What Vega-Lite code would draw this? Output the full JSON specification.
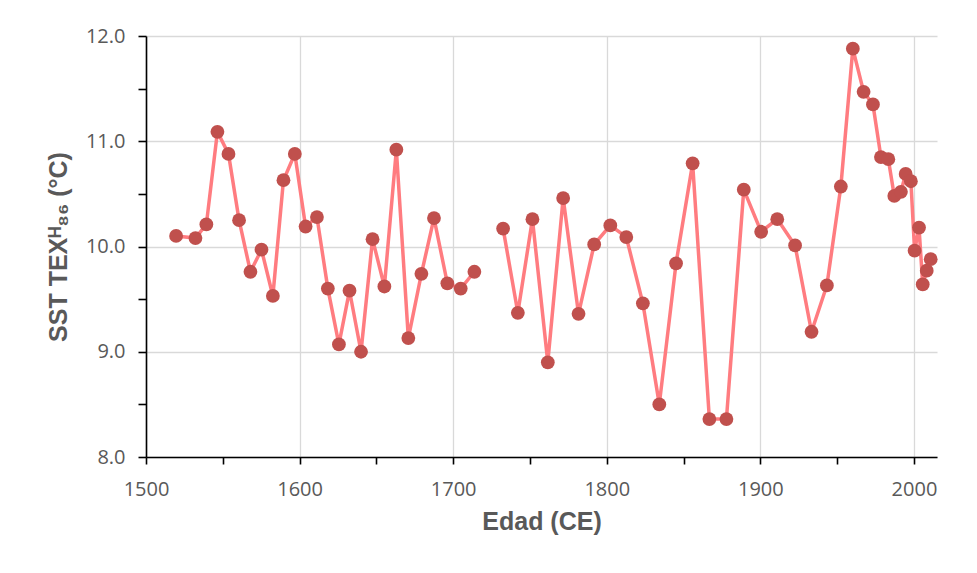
{
  "$schema": "https://vega.github.io/schema/vega-lite/v6.json",
  "autosize": {"type": "none"},
  "width": 791,
  "height": 421,
  "padding": {"left": 146, "top": 36, "right": 40, "bottom": 116},
  "background": "white",
  "config": {"view": {"stroke": null}},
  "data": {"values": [
    {"year": 1519.6, "sst": 10.10, "seg": 1},
    {"year": 1532.2, "sst": 10.08, "seg": 1},
    {"year": 1539.3, "sst": 10.21, "seg": 1},
    {"year": 1546.5, "sst": 11.09, "seg": 1},
    {"year": 1553.7, "sst": 10.88, "seg": 1},
    {"year": 1560.6, "sst": 10.25, "seg": 1},
    {"year": 1568.0, "sst": 9.76, "seg": 1},
    {"year": 1575.2, "sst": 9.97, "seg": 1},
    {"year": 1582.6, "sst": 9.53, "seg": 1},
    {"year": 1589.5, "sst": 10.63, "seg": 1},
    {"year": 1596.9, "sst": 10.88, "seg": 1},
    {"year": 1603.9, "sst": 10.19, "seg": 1},
    {"year": 1611.3, "sst": 10.28, "seg": 1},
    {"year": 1618.4, "sst": 9.60, "seg": 1},
    {"year": 1625.6, "sst": 9.07, "seg": 1},
    {"year": 1632.5, "sst": 9.58, "seg": 1},
    {"year": 1640.0, "sst": 9.00, "seg": 1},
    {"year": 1647.5, "sst": 10.07, "seg": 1},
    {"year": 1655.2, "sst": 9.62, "seg": 1},
    {"year": 1663.0, "sst": 10.92, "seg": 1},
    {"year": 1670.8, "sst": 9.13, "seg": 1},
    {"year": 1679.3, "sst": 9.74, "seg": 1},
    {"year": 1687.5, "sst": 10.27, "seg": 1},
    {"year": 1696.2, "sst": 9.65, "seg": 1},
    {"year": 1704.9, "sst": 9.60, "seg": 1},
    {"year": 1713.8, "sst": 9.76, "seg": 1},
    {"year": 1732.5, "sst": 10.17, "seg": 2},
    {"year": 1742.1, "sst": 9.37, "seg": 2},
    {"year": 1751.6, "sst": 10.26, "seg": 2},
    {"year": 1761.6, "sst": 8.90, "seg": 2},
    {"year": 1771.6, "sst": 10.46, "seg": 2},
    {"year": 1781.6, "sst": 9.36, "seg": 2},
    {"year": 1791.8, "sst": 10.02, "seg": 2},
    {"year": 1802.3, "sst": 10.20, "seg": 2},
    {"year": 1812.7, "sst": 10.09, "seg": 2},
    {"year": 1823.5, "sst": 9.46, "seg": 2},
    {"year": 1834.2, "sst": 8.50, "seg": 2},
    {"year": 1845.1, "sst": 9.84, "seg": 2},
    {"year": 1855.9, "sst": 10.79, "seg": 2},
    {"year": 1866.8, "sst": 8.36, "seg": 2},
    {"year": 1877.9, "sst": 8.36, "seg": 2},
    {"year": 1889.2, "sst": 10.54, "seg": 2},
    {"year": 1900.5, "sst": 10.14, "seg": 2},
    {"year": 1911.0, "sst": 10.26, "seg": 2},
    {"year": 1922.6, "sst": 10.01, "seg": 2},
    {"year": 1933.3, "sst": 9.19, "seg": 2},
    {"year": 1943.3, "sst": 9.63, "seg": 2},
    {"year": 1952.4, "sst": 10.57, "seg": 2},
    {"year": 1960.2, "sst": 11.88, "seg": 2},
    {"year": 1967.2, "sst": 11.47, "seg": 2},
    {"year": 1973.3, "sst": 11.35, "seg": 2},
    {"year": 1978.5, "sst": 10.85, "seg": 2},
    {"year": 1983.3, "sst": 10.83, "seg": 2},
    {"year": 1987.2, "sst": 10.48, "seg": 2},
    {"year": 1991.5, "sst": 10.52, "seg": 2},
    {"year": 1994.6, "sst": 10.69, "seg": 2},
    {"year": 1998.0, "sst": 10.62, "seg": 2},
    {"year": 2000.4, "sst": 9.96, "seg": 2},
    {"year": 2003.3, "sst": 10.18, "seg": 2},
    {"year": 2005.7, "sst": 9.64, "seg": 2},
    {"year": 2008.3, "sst": 9.77, "seg": 2},
    {"year": 2010.9, "sst": 9.88, "seg": 2}
  ]},
  "encoding": {
    "x": {
      "field": "year", "type": "quantitative",
      "scale": {"domain": [1500, 2015], "nice": false, "zero": false},
      "axis": {
        "title": "Edad (CE)",
        "values": [1500, 1550, 1600, 1650, 1700, 1750, 1800, 1850, 1900, 1950, 2000],
        "labelExpr": "datum.value % 100 === 0 ? format(datum.value, 'd') : ''",
        "gridOpacity": {"condition": {"test": "datum.value % 100 === 0", "value": 1}, "value": 0},
        "gridColor": "#D9D9D9", "gridWidth": 1.3,
        "domainColor": "#000000", "domainWidth": 1.6,
        "tickColor": "#000000", "tickWidth": 1.6, "tickSize": 7,
        "labelFont": "Open Sans", "labelFontSize": 20, "labelColor": "#595959", "labelPadding": 15,
        "labelFlush": false, "labelOverlap": false,
        "titleFont": "Liberation Sans", "titleFontSize": 25, "titleFontWeight": "bold", "titleColor": "#595959", "titlePadding": 10
      }
    },
    "y": {
      "field": "sst", "type": "quantitative",
      "scale": {"domain": [8, 12], "nice": false, "zero": false},
      "axis": {
        "title": "SST TEXᴴ₈₆ (°C)",
        "values": [8, 8.5, 9, 9.5, 10, 10.5, 11, 11.5, 12],
        "labelExpr": "datum.value % 1 === 0 ? format(datum.value, '.1f') : ''",
        "gridOpacity": {"condition": {"test": "datum.value % 1 === 0", "value": 1}, "value": 0},
        "gridColor": "#D9D9D9", "gridWidth": 1.3,
        "domainColor": "#000000", "domainWidth": 1.6,
        "tickColor": "#000000", "tickWidth": 1.6, "tickSize": 8,
        "labelFont": "Open Sans", "labelFontSize": 20, "labelColor": "#595959", "labelPadding": 13,
        "labelFlush": false, "labelOverlap": false,
        "titleFont": "Liberation Sans", "titleFontSize": 25, "titleFontWeight": "bold", "titleColor": "#595959", "titlePadding": 14
      }
    }
  },
  "layer": [
    {
      "mark": {"type": "line", "color": "#FF7C80", "strokeWidth": 3.5},
      "encoding": {"detail": {"field": "seg", "type": "nominal"}, "order": {"field": "year", "type": "quantitative"}}
    },
    {
      "mark": {"type": "circle", "color": "#C0504D", "opacity": 1, "size": 190}
    }
  ]
}
